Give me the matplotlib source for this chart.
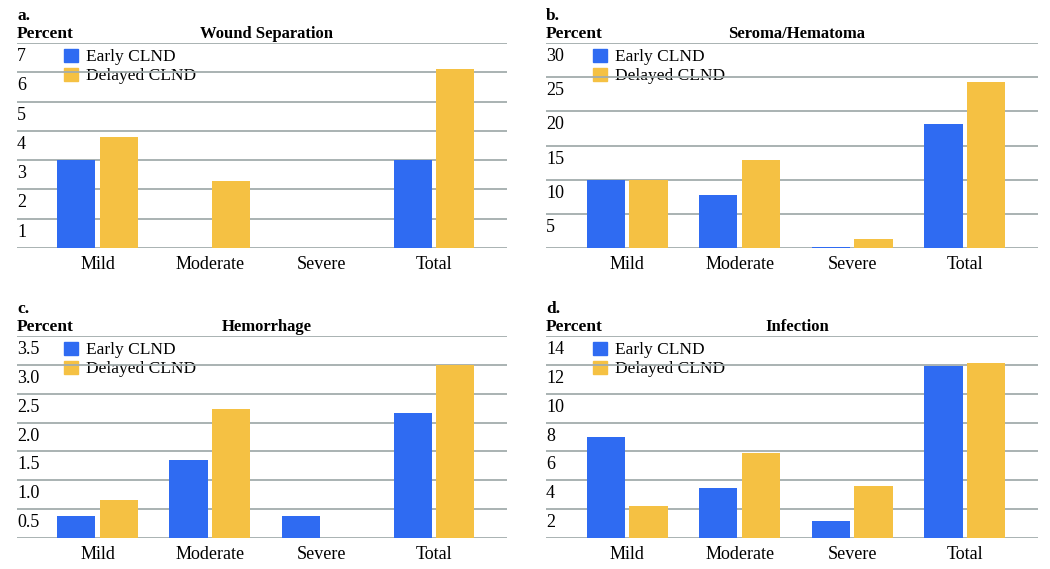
import numpy as np
import matplotlib
matplotlib.use("Agg")
import matplotlib.pyplot as plt
from matplotlib.patches import Patch
from matplotlib.transforms import ScaledTranslation

plt.rcParams['font.family'] = ['Liberation Serif', 'DejaVu Serif']

categories = ['Mild', 'Moderate', 'Severe', 'Total']
series_names = ['Early CLND', 'Delayed CLND']

wound_early = [3.0, 0, 0, 3.0]
wound_delayed = [3.8, 2.3, 0, 6.1]
seroma_early = [10.0, 7.7, 0.2, 18.2]
seroma_delayed = [10.0, 12.9, 1.3, 24.3]
hemorrhage_early = [0.38, 1.36, 0.38, 2.16]
hemorrhage_delayed = [0.66, 2.24, 0, 3.0]
infection_early = [7.0, 3.5, 1.2, 11.95]
infection_delayed = [2.2, 5.9, 3.6, 12.1]

panel_letters = ['a.', 'b.', 'c.', 'd.']
panel_titles = ['Wound Separation', 'Seroma/Hematoma', 'Hemorrhage', 'Infection']
panel_ticks = [
    [1, 2, 3, 4, 5, 6, 7],
    [5, 10, 15, 20, 25, 30],
    [0.5, 1.0, 1.5, 2.0, 2.5, 3.0, 3.5],
    [2, 4, 6, 8, 10, 12, 14],
]
panel_ticklabels = [
    ['1', '2', '3', '4', '5', '6', '7'],
    ['5', '10', '15', '20', '25', '30'],
    ['0.5', '1.0', '1.5', '2.0', '2.5', '3.0', '3.5'],
    ['2', '4', '6', '8', '10', '12', '14'],
]
panel_data = [
    (wound_early, wound_delayed),
    (seroma_early, seroma_delayed),
    (hemorrhage_early, hemorrhage_delayed),
    (infection_early, infection_delayed),
]

BLUE = '#2f6bf2'
YELLOW = '#f5c143'
GRID = '#a3acac'
FS = 13

fig = plt.figure(figsize=(10.5, 5.69), dpi=100)
W, H = 1050, 569
# (left, right, top, bottom) in pixels
boxes = [(17, 507, 43, 248), (546, 1038, 43, 248),
         (17, 507, 336, 538), (546, 1038, 336, 538)]

x = np.arange(len(categories))
bw = 0.34
off = 0.19
shift_down = ScaledTranslation(0, -5 / 100, fig.dpi_scale_trans)

for i, (l, r, t, b) in enumerate(boxes):
    ax = fig.add_axes([l / W, 1 - b / H, (r - l) / W, (b - t) / H])
    early, delayed = panel_data[i]
    ticks = panel_ticks[i]
    ax.bar(x - off, early, bw, color=BLUE, zorder=3)
    ax.bar(x + off, delayed, bw, color=YELLOW, zorder=3)
    for v in [0] + ticks:
        ax.axhline(v, color=GRID, lw=1.3, zorder=2)
    ax.set_xlim(-0.72, 3.65)
    ax.set_ylim(0, ticks[-1])
    for s in ax.spines.values():
        s.set_visible(False)
    ax.set_xticks(x)
    ax.set_xticklabels(categories, fontsize=FS)
    ax.tick_params(axis='x', length=0, pad=6)
    ax.set_yticks(ticks)
    ax.set_yticklabels(panel_ticklabels[i], fontsize=FS)
    ax.tick_params(axis='y', length=0, pad=0)
    for lab in ax.get_yticklabels():
        lab.set_horizontalalignment('left')
        lab.set_verticalalignment('top')
        lab.set_transform(lab.get_transform() + shift_down)

    ax.annotate(panel_letters[i], xy=(0, 1), xycoords='axes fraction',
                xytext=(0, 23), textcoords='offset pixels',
                fontsize=12.5, fontweight='bold', va='baseline', ha='left')
    ax.annotate('Percent', xy=(0, 1), xycoords='axes fraction',
                xytext=(0, 5), textcoords='offset pixels',
                fontsize=12.5, fontweight='bold', va='baseline', ha='left')
    ax.annotate(panel_titles[i], xy=(0.5, 1), xycoords='axes fraction',
                xytext=(5, 5), textcoords='offset pixels',
                fontsize=12, fontweight='bold', va='baseline', ha='center')

    handles = [Patch(color=BLUE), Patch(color=YELLOW)]
    leg = ax.legend(handles, series_names, loc='upper left',
                    bbox_to_anchor=(47 / (r - l), 1 - 6 / (b - t)), frameon=False,
                    fontsize=12.5, handlelength=0.8, handleheight=0.75,
                    handletextpad=0.45, labelspacing=0.15,
                    borderpad=0, borderaxespad=0)
    leg.set_zorder(1)

fig.savefig('out.png', dpi=100)
